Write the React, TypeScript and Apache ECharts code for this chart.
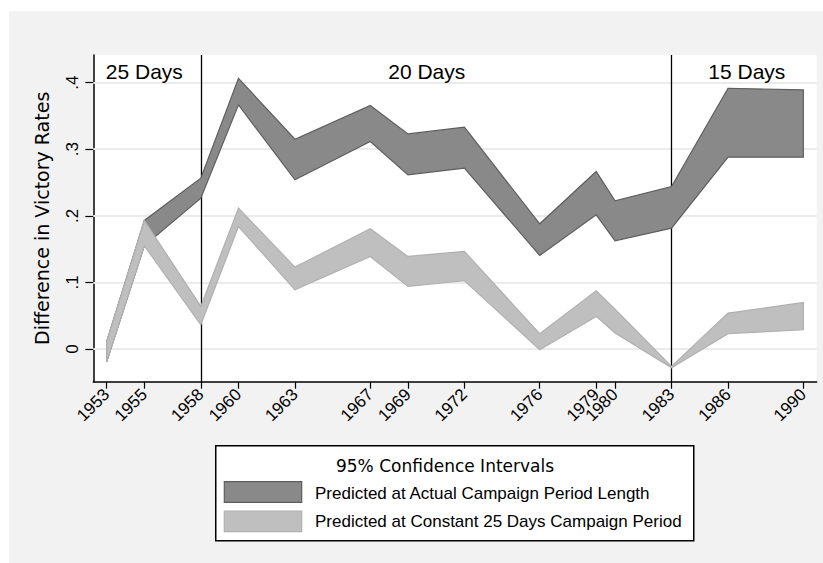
import React, { useEffect, useRef } from "react";
import * as echarts from "echarts";

// ---- data ----
const years = [1953, 1955, 1958, 1960, 1963, 1967, 1969, 1972, 1976, 1979, 1980, 1983, 1986, 1990];
const actualUpper = [0.011, 0.193, 0.2565, 0.4065, 0.315, 0.3655, 0.323, 0.333, 0.188, 0.2665, 0.2225, 0.244, 0.3915, 0.389];
const actualLower = [-0.019, 0.155, 0.2265, 0.3665, 0.254, 0.3115, 0.2615, 0.2715, 0.1405, 0.2015, 0.1625, 0.1815, 0.288, 0.288];
const constUpper = [0.011, 0.193, 0.064, 0.2115, 0.123, 0.1805, 0.139, 0.1465, 0.023, 0.0875, 0.06, -0.026, 0.054, 0.07];
const constLower = [-0.019, 0.155, 0.0365, 0.184, 0.089, 0.139, 0.094, 0.1025, -0.001, 0.049, 0.024, -0.028, 0.023, 0.029];

const yTicks = [0, 0.1, 0.2, 0.3, 0.4];
const yTickLabels = ["0", ".1", ".2", ".3", ".4"];
const periodBreaks = [1958, 1983];
const periodLabels = ["25 Days", "20 Days", "15 Days"];
const periodLabelX = [1955, 1970, 1987];
const periodLabelY = 0.416;

const legendTitle = "95% Confidence Intervals";
const seriesNames = ["Predicted at Actual Campaign Period Length", "Predicted at Constant 25 Days Campaign Period"];

const DARK_FILL = "#898989";
const DARK_STROKE = "#5e5e5e";
const LIGHT_FILL = "#bfbfbf";
const LIGHT_STROKE = "#b0b0b0";
const FONT = "'Liberation Sans', Arial, Helvetica, sans-serif";
const FONT2 = "'DejaVu Sans', 'Liberation Sans', sans-serif";

function bandRender(lower: number[], upper: number[], fill: string, stroke: string) {
  return (params: any, api: any) => {
    if (params.dataIndex !== 0) return null;
    const pts: number[][] = [];
    for (let i = 0; i < years.length; i++) pts.push(api.coord([years[i], upper[i]]));
    for (let i = years.length - 1; i >= 0; i--) pts.push(api.coord([years[i], lower[i]]));
    return {
      type: "polygon",
      shape: { points: pts },
      style: { fill, stroke, lineWidth: 1.2, lineJoin: "miter" },
    };
  };
}

export default function App() {
  const ref = useRef<HTMLDivElement>(null);
  useEffect(() => {
    if (!ref.current) return;
    const chart = echarts.init(ref.current, null, { renderer: "svg" });
    const option: any = {
      animation: false,
      backgroundColor: "#f2f2f2",
      textStyle: { fontFamily: FONT },
      grid: {
        left: 84.3,
        top: 44,
        right: 6.3,
        bottom: 181.3,
        show: true,
        backgroundColor: "#ffffff",
        borderWidth: 0,
      },
      xAxis: {
        type: "value",
        min: 1952.29,
        max: 1990.71,
        axisLine: { show: true, onZero: false, lineStyle: { color: "#000", width: 1.5 } },
        axisTick: { show: true, length: 7, customValues: years, lineStyle: { color: "#000", width: 1.2 } },
        axisLabel: {
          show: true,
          customValues: years,
          rotate: 45,
          margin: 10,
          fontSize: 17,
          color: "#000",
          fontFamily: FONT,
          formatter: (v: number) => String(Math.round(v)),
        },
        splitLine: { show: false },
      },
      yAxis: {
        type: "value",
        min: -0.049,
        max: 0.4414,
        name: "Difference in Victory Rates",
        nameLocation: "middle",
        nameRotate: 90,
        nameGap: 42,
        nameTextStyle: { fontSize: 19, color: "#000", fontFamily: FONT2 },
        axisLine: { show: true, onZero: false, lineStyle: { color: "#000", width: 1.5 } },
        axisTick: { show: true, length: 8, customValues: yTicks, lineStyle: { color: "#000", width: 1.2 } },
        axisLabel: {
          show: true,
          customValues: yTicks,
          rotate: 90,
          margin: 12,
          fontSize: 17,
          color: "#000",
          fontFamily: FONT,
          formatter: (v: number) => {
            const i = yTicks.findIndex((t) => Math.abs(t - v) < 1e-9);
            return i >= 0 ? yTickLabels[i] : "";
          },
        },
        splitLine: { show: false },
      },
      series: [
        {
          type: "line",
          data: [],
          silent: true,
          z: 1,
          markLine: {
            silent: true,
            symbol: "none",
            z: 1,
            label: { show: false },
            lineStyle: { color: "#ebebeb", width: 2, type: "solid" },
            data: yTicks.map((v) => ({ yAxis: v })),
          },
        },
        {
          type: "line",
          data: [],
          silent: true,
          z: 1.5,
          markLine: {
            silent: true,
            symbol: "none",
            z: 1.5,
            label: { show: false },
            lineStyle: { color: "#000", width: 1.3, type: "solid" },
            data: periodBreaks.map((v) => ({ xAxis: v })),
          },
        },
        {
          type: "custom",
          name: seriesNames[0],
          z: 3,
          silent: true,
          data: years.map((y, i) => [y, actualLower[i], actualUpper[i]]),
          encode: { x: 0, y: [1, 2] },
          renderItem: bandRender(actualLower, actualUpper, DARK_FILL, DARK_STROKE),
        },
        {
          type: "custom",
          name: seriesNames[1],
          z: 4,
          silent: true,
          data: years.map((y, i) => [y, constLower[i], constUpper[i]]),
          encode: { x: 0, y: [1, 2] },
          renderItem: bandRender(constLower, constUpper, LIGHT_FILL, LIGHT_STROKE),
        },
        {
          type: "line",
          data: [],
          silent: true,
          z: 6,
          markPoint: {
            silent: true,
            z: 6,
            symbol: "rect",
            symbolSize: 1,
            itemStyle: { color: "rgba(0,0,0,0)" },
            label: {
              show: true,
              position: "inside",
              formatter: "{b}",
              fontSize: 21,
              color: "#000",
              fontFamily: FONT,
            },
            data: periodLabels.map((t, i) => ({ name: t, coord: [periodLabelX[i], periodLabelY] })),
          },
        },
      ],
      graphic: [
        {
          type: "rect",
          left: 206,
          top: 434,
          shape: { width: 478, height: 95 },
          style: { fill: "#fff", stroke: "#000", lineWidth: 1.5 },
          z: 10,
        },
        {
          type: "text",
          x: 436,
          y: 455,
          style: {
            text: legendTitle,
            fontSize: 17,
            fontFamily: FONT2,
            fill: "#000",
            align: "center",
            verticalAlign: "middle",
          },
          z: 11,
        },
        {
          type: "rect",
          x: 215.3,
          y: 470.7,
          shape: { width: 77.4, height: 20.6 },
          style: { fill: DARK_FILL, stroke: DARK_STROKE, lineWidth: 1.2 },
          z: 11,
        },
        {
          type: "rect",
          x: 215.3,
          y: 500,
          shape: { width: 77.4, height: 20.7 },
          style: { fill: LIGHT_FILL, stroke: LIGHT_STROKE, lineWidth: 1.2 },
          z: 11,
        },
        {
          type: "text",
          x: 306,
          y: 482.3,
          style: { text: seriesNames[0], fontSize: 17, fontFamily: FONT, fill: "#000", verticalAlign: "middle" },
          z: 11,
        },
        {
          type: "text",
          x: 306,
          y: 510.7,
          style: { text: seriesNames[1], fontSize: 17, fontFamily: FONT, fill: "#000", verticalAlign: "middle" },
          z: 11,
        },
      ],
    };
    chart.setOption(option);
    return () => chart.dispose();
  }, []);
  return (
    <div
      ref={ref}
      style={{ position: "absolute", left: 9, top: 11, width: 814, height: 552 }}
    />
  );
}
